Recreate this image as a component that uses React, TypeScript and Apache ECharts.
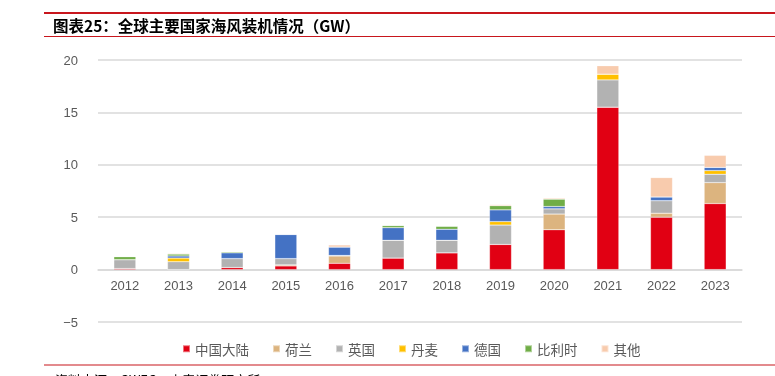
import React, { useEffect, useRef } from "react";
import * as echarts from "echarts";

const years = ["2012", "2013", "2014", "2015", "2016", "2017", "2018", "2019", "2020", "2021", "2022", "2023"];
const seriesNames = ["中国大陆", "荷兰", "英国", "丹麦", "德国", "比利时", "其他"];
const china = [0.1, 0, 0.2, 0.35, 0.6, 1.1, 1.6, 2.4, 3.8, 15.5, 5.0, 6.3];
const netherlands = [0, 0, 0, 0.1, 0.7, 0, 0, 0, 1.5, 0, 0.38, 2.0];
const uk = [0.85, 0.75, 0.85, 0.6, 0.05, 1.7, 1.2, 1.85, 0.5, 2.6, 1.2, 0.8];
const denmark = [0, 0.35, 0, 0, 0, 0, 0, 0.33, 0, 0.55, 0, 0.35];
const germany = [0, 0.2, 0.55, 2.3, 0.8, 1.2, 1.05, 1.12, 0.22, 0, 0.35, 0.3];
const belgium = [0.28, 0.18, 0.1, 0, 0, 0.2, 0.28, 0.4, 0.7, 0, 0, 0];
const others = [0.05, 0.07, 0, 0, 0.2, 0.05, 0.05, 0.1, 0.1, 0.8, 1.85, 1.15];
const colors = ["#E10013", "#DCB47F", "#B2B2B2", "#FFC000", "#4472C4", "#70AD47", "#F8CBAD"];
const titleText = "图表25：全球主要国家海风装机情况（GW）";
const sourceText = "资料来源：GWEC，中泰证券研究所";

export default function App() {
  const ref = useRef<HTMLDivElement>(null);
  useEffect(() => {
    if (!ref.current) return;
    const chart = echarts.init(ref.current, undefined, { renderer: "svg" });
    const data = [china, netherlands, uk, denmark, germany, belgium, others];
    const cjk = "'Noto Sans CJK SC', sans-serif";
    const lat = "'Liberation Sans', 'Noto Sans CJK SC', sans-serif";
    const gridTop = 60;
    const gridBottom = 54;
    const plotH = 376 - gridTop - gridBottom;
    const zeroOffset = (plotH * 5) / 25;
    chart.setOption({
      animation: false,
      color: colors,
      title: {
        text: titleText,
        left: 53,
        top: 17,
        padding: 0,
        textStyle: { fontSize: 15.5, fontWeight: "bold", color: "#000", fontFamily: cjk },
      },
      grid: { left: 98, right: 33, top: gridTop, bottom: gridBottom, containLabel: false },
      legend: {
        left: 177,
        top: 337,
        icon: "rect",
        itemWidth: 7,
        itemHeight: 7,
        itemGap: 23,
        textStyle: { fontSize: 13.5, color: "#595959", fontFamily: cjk },
        data: seriesNames,
      },
      xAxis: {
        type: "category",
        data: years,
        offset: -zeroOffset,
        axisLine: { show: true, onZero: false, lineStyle: { color: "#D9D9D9", width: 1.5 } },
        axisTick: { show: false },
        axisLabel: { margin: 9, fontSize: 13, color: "#595959", fontFamily: lat },
      },
      yAxis: {
        type: "value",
        min: -5,
        max: 20,
        interval: 5,
        axisLine: { show: false },
        axisTick: { show: false },
        splitLine: { lineStyle: { color: "#D9D9D9", width: 1.5 } },
        axisLabel: {
          margin: 20,
          fontSize: 13,
          color: "#595959",
          fontFamily: lat,
          formatter: (v: number) => (v < 0 ? "\u2212" + Math.abs(v) : String(v)),
        },
      },
      series: seriesNames.map((name, i) => ({
        name,
        type: "bar",
        stack: "total",
        barWidth: 22,
        data: data[i],
        itemStyle: { color: colors[i], borderColor: "rgba(255,255,255,0.45)", borderWidth: 0.5 },
      })),
      graphic: [
        { type: "rect", shape: { x: 44, y: 12, width: 731, height: 2 }, style: { fill: "#C8161D" } },
        { type: "rect", shape: { x: 44, y: 36, width: 731, height: 1 }, style: { fill: "#C8161D" } },
        { type: "rect", shape: { x: 44, y: 364.5, width: 731, height: 1 }, style: { fill: "#C8161D" } },
        {
          type: "text",
          x: 55,
          y: 373,
          style: { text: sourceText, fill: "#000", font: "13px 'Noto Sans CJK SC'", verticalAlign: "top" },
        },
      ],
    });
    return () => chart.dispose();
  }, []);
  return <div ref={ref} style={{ position: "fixed", left: 0, top: 0, width: 775, height: 376 }} />;
}
